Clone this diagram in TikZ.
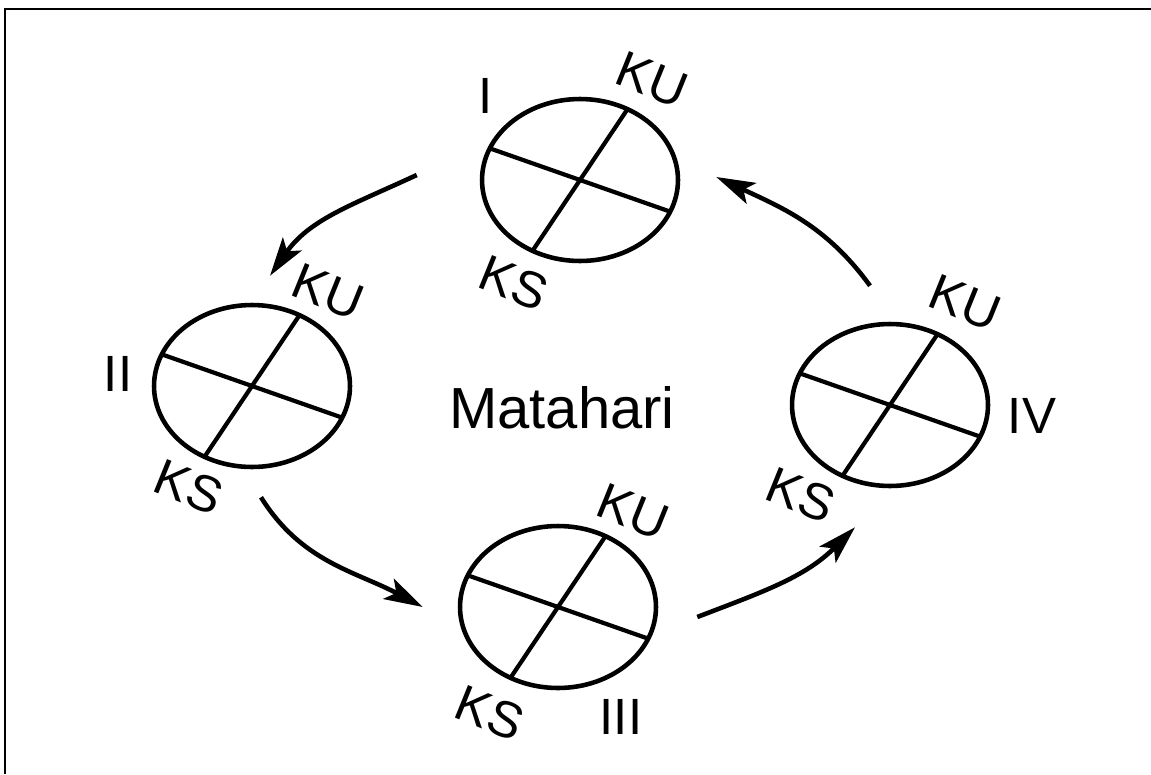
\documentclass[tikz,border=0pt]{standalone}
\usepackage{fontspec}
\setmainfont{Liberation Sans}
\usetikzlibrary{shapes.geometric,arrows.meta,calc}

\begin{document}
\begin{tikzpicture}[x=0.02cm,y=-0.02cm,
    bumi/.style={ellipse,draw,line width=2.6pt,minimum width=3.92cm,minimum height=3.24cm,inner sep=0pt},
    poros/.style={line width=2.4pt},
    orbit/.style={line width=2.6pt,-{Stealth[length=22pt,width=13pt,inset=5pt]}},
    teks/.style={font=\fontsize{29}{34}\selectfont,inner sep=0pt},
    kutub/.style={teks,rotate=-22}]
\useasboundingbox (0,0) rectangle (1151,774);
% Bingkai
\draw[line width=1.1pt] (5,774) -- (5,9) -- (1151,9);
% Bumi dan porosnya
\foreach \i/\x/\y in {1/580/180,2/252/386,3/558/607,4/890/405} {
    \node[bumi] (b\i) at (\x,\y) {};
    \draw[poros] ($(b\i)+(157:1.96cm and 1.62cm)$) -- ($(b\i)+(-23:1.96cm and 1.62cm)$);
    \draw[poros] ($(b\i)+(61:1.96cm and 1.62cm)$) -- ($(b\i)+(241:1.96cm and 1.62cm)$);
}
% Kutub
\node[kutub] (ku1) at (652,80) {KU};
\node[kutub] (ks1) at (514,283) {KS};
\node[kutub] (ku2) at (328,292) {KU};
\node[kutub] (ks2) at (189,487) {KS};
\node[kutub] (ku3) at (633,512) {KU};
\node[kutub] (ks3) at (490,713) {KS};
\node[kutub] (ku4) at (965,303) {KU};
\node[kutub] (ks4) at (801,495) {KS};
% Posisi
\node[teks] (r1) at (486,96) {I};
\node[teks] (r2) at (118,374) {II};
\node[teks] (r3) at (621,717) {III};
\node[teks] (r4) at (1032,416) {IV};
\node[teks,font=\fontsize{33}{38}\selectfont] (matahari) at (562,408) {Matahari};
% Orbit
\draw[orbit] ([shift={(-63,-5)}]b1.west) to[out=205,in=55] ([shift={(18,-27)}]b2.north);
\draw[orbit] ([shift={(9,28)}]b2.south) to[out=-58,in=152] ([shift={(-35,0)}]b3.west);
\draw[orbit] ([shift={(39,10)}]b3.east) to[out=21,in=225] ([shift={(-35,39)}]b4.south);
\draw[orbit] ([shift={(-20,-36)}]b4.north) to[out=126,in=-25] ([shift={(36,-3)}]b1.east);
\end{tikzpicture}
\end{document}
